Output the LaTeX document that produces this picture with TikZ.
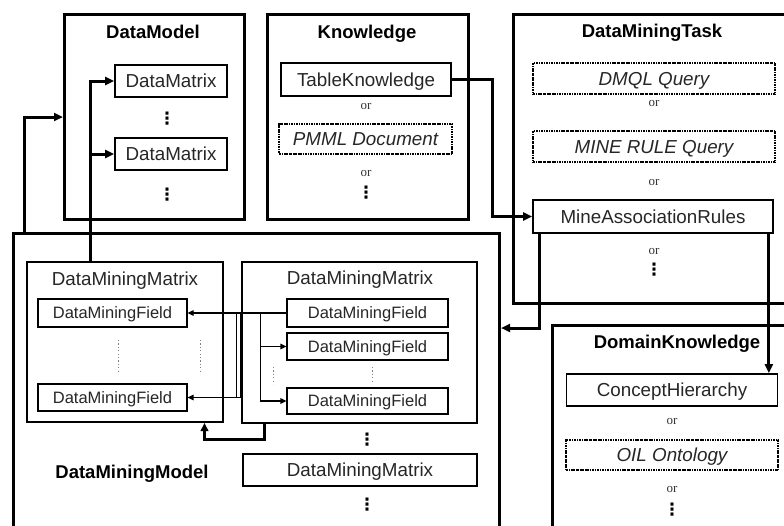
\documentclass[tikz,border=0pt]{standalone}
\usepackage{fontspec}
\setmainfont{Liberation Sans}
\newfontfamily\orfont{Liberation Serif}
\newfontfamily\symfont{DejaVu Sans}
\usetikzlibrary{arrows.meta}

\tikzset{
  outer/.style={draw, line width=3pt, anchor=north west, inner sep=0pt},
  matrixbox/.style={draw, line width=2pt, inner sep=0pt},
  item/.style={draw, line width=1.8pt, inner sep=0pt, text=black!85,
    font=\fontsize{18.8}{21}\selectfont, text height=13.4pt, text depth=0pt},
  alt/.style={draw, line width=1.6pt, dash pattern=on 2.4pt off 0.9pt on 0.9pt off 0.9pt,
    inner sep=0pt, text=black!85, font=\fontsize{18.8}{21}\selectfont\itshape,
    text height=13.4pt, text depth=0pt},
  field/.style={draw, line width=1.2pt, inner sep=0pt, text=black!85,
    font=\fontsize{16.5}{19}\selectfont, text height=11.8pt, text depth=0pt},
  title/.style={inner sep=0pt, font=\bfseries\fontsize{18.5}{22}\selectfont,
    text height=13.3pt, text depth=0pt},
  subtitle/.style={inner sep=0pt, text=black!85, font=\fontsize{18.8}{21}\selectfont,
    text height=13.4pt, text depth=0pt},
  ortext/.style={inner sep=0pt, text=black!80, font=\orfont\fontsize{13}{15}\selectfont,
    text height=5.9pt, text depth=0pt},
  dotsnode/.style={inner sep=0pt, font=\symfont\bfseries\fontsize{17}{17}\selectfont},
  gapline/.style={gray, line width=1pt, dash pattern=on 1.2pt off 2.2pt},
  link/.style={line width=3pt, -{Triangle[length=9pt,width=8pt]}},
  thinlink/.style={line width=1.2pt, -{Triangle[length=6pt,width=5.5pt]}},
}

\begin{document}
\begin{tikzpicture}[x=1pt, y=-1pt]
\useasboundingbox (0,0) rectangle (784,525);
\clip (0,0) rectangle (784,525);

% ---------- outer containers ----------
\node[outer, minimum width=180pt, minimum height=205pt] (datamodel) at (63,13) {};
\node[outer, minimum width=201pt, minimum height=205pt] (knowledge) at (266,13) {};
\node[outer, minimum width=282pt, minimum height=289pt] (task) at (512,13) {};
\node[outer, minimum width=260pt, minimum height=260pt] (domain) at (551,324) {};
\node[outer, minimum width=486pt, minimum height=320pt] (model) at (12,232) {};

% ---------- titles ----------
\node[title] (tDataModel) at (153,32) {DataModel};
\node[title] (tKnowledge) at (367,32) {Knowledge};
\node[title] (tTask) at (652,31) {DataMiningTask};
\node[title] (tDomain) at (677,342) {DomainKnowledge};
\node[title] (tModel) at (132,472) {DataMiningModel};

% ---------- DataModel ----------
\node[item, minimum width=112pt, minimum height=32pt] (dm1) at (171,81) {DataMatrix};
\node[dotsnode] (dmv1) at (167,119) {⋮};
\node[item, minimum width=112pt, minimum height=32pt] (dm2) at (171,154) {DataMatrix};
\node[dotsnode] (dmv2) at (167,195) {⋮};

% ---------- Knowledge ----------
\node[item, minimum width=170pt, minimum height=33pt] (tk) at (366,79.5) {TableKnowledge};
\node[ortext] (kor1) at (366,107) {or};
\node[alt, minimum width=173pt, minimum height=30pt] (pmml) at (365.5,139) {PMML Document};
\node[ortext] (kor2) at (366,174) {or};
\node[dotsnode] (kv) at (366,193) {⋮};

% ---------- DataMiningTask ----------
\node[alt, minimum width=242pt, minimum height=31pt] (dmql) at (654,78.5) {DMQL Query};
\node[ortext] (tor1) at (654,104) {or};
\node[alt, minimum width=242pt, minimum height=31pt] (mrq) at (654,146.5) {MINE RULE Query};
\node[ortext] (tor2) at (654,183) {or};
\node[item, minimum width=240pt, minimum height=33pt] (mar) at (653,216.5) {MineAssociationRules};
\node[ortext] (tor3) at (654,252) {or};
\node[dotsnode] (tv) at (654,270) {⋮};

% ---------- DomainKnowledge ----------
\node[item, minimum width=211pt, minimum height=32pt] (ch) at (672,390) {ConceptHierarchy};
\node[ortext] (dor1) at (672,422) {or};
\node[alt, minimum width=212pt, minimum height=30pt] (oil) at (672,455) {OIL Ontology};
\node[ortext] (dor2) at (672,490) {or};
\node[dotsnode] (dv) at (672,510) {⋮};

% ---------- DataMiningModel ----------
\node[matrixbox, minimum width=196pt, minimum height=160pt] (lm) at (125,342) {};
\node[subtitle] (lmt) at (125,279) {DataMiningMatrix};
\node[field, minimum width=149pt, minimum height=28pt] (lf1) at (112.5,313) {DataMiningField};
\node[field, minimum width=149pt, minimum height=27pt] (lf2) at (112.5,397.5) {DataMiningField};
\draw[gapline] (118,340) -- (118,374);
\draw[gapline] (200,340) -- (200,374);

\node[matrixbox, minimum width=235pt, minimum height=161pt] (rm) at (359.5,342.5) {};
\node[subtitle] (rmt) at (360,278) {DataMiningMatrix};
\node[field, minimum width=161pt, minimum height=28pt] (rf1) at (367.5,313) {DataMiningField};
\node[field, minimum width=161pt, minimum height=27pt] (rf2) at (367.5,346.5) {DataMiningField};
\node[field, minimum width=161pt, minimum height=26pt] (rf3) at (367.5,401) {DataMiningField};
\draw[gapline] (273,367) -- (273,384);
\draw[gapline] (372,367) -- (372,384);

\node[dotsnode] (mv1) at (367,440) {⋮};
\node[matrixbox, minimum width=234pt, minimum height=32pt, text=black!85,
      font=\fontsize{18.8}{21}\selectfont, text height=13.4pt, text depth=0pt] (bm) at (360,470) {DataMiningMatrix};
\node[dotsnode] (mv2) at (367,505) {⋮};

% ---------- connectors ----------
\draw[link] ([xshift=12pt]model.north west) |- (datamodel.west);
\draw[link] ([xshift=-35pt]lm.north) |- (dm1.west);
\draw[link] ([xshift=-35pt]lm.north) |- (dm2.west);
\draw[link] (tk.east) -- ++(41,0) |- (mar.west);
\draw[link] ([xshift=7pt]mar.south west) |- ([yshift=-96pt]model.north east);
\draw[link] ([xshift=-5pt]mar.south east) -- ([xshift=-5pt]mar.south east |- ch.north);
\draw[line width=3pt, -{Triangle[length=8pt,width=7.5pt]}]
  ([xshift=23pt]rm.south west) -- ++(0,15) -| ([xshift=-19.5pt]lm.south east);

\draw[thinlink] (rf1.west) -- (lf1.east);
\draw[thinlink] ([xshift=53pt]lf1.east) |- (lf2.east);
\draw[line width=1.2pt] ([xshift=49pt]lf1.east) -- ([xshift=49pt]lf1.east |- lf2.east);
\draw[thinlink] ([xshift=-26pt]rf1.west) |- (rf2.west);
\draw[thinlink] ([xshift=-26pt]rf1.west) |- (rf3.west);
\end{tikzpicture}
\end{document}
